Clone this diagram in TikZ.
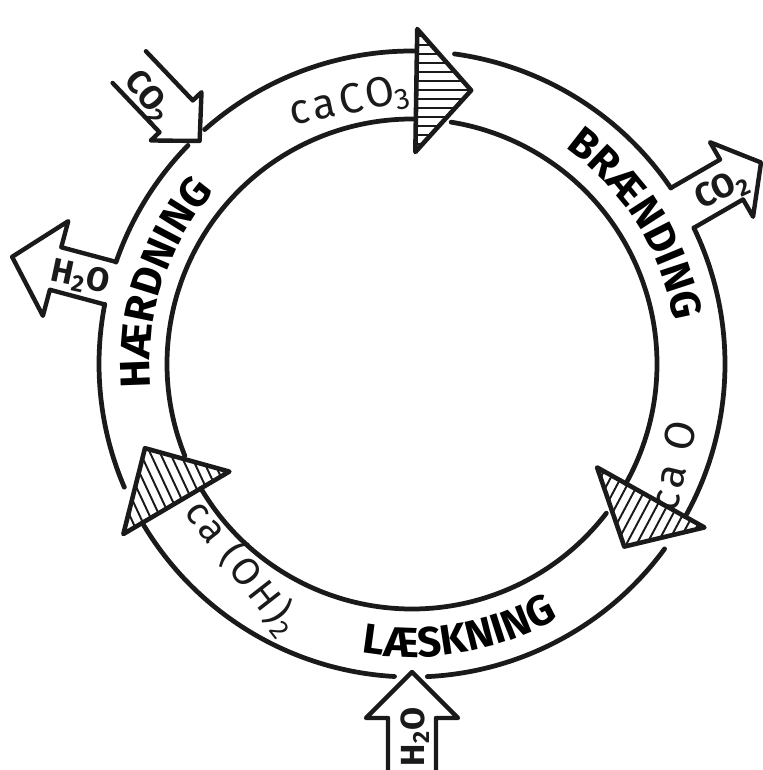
\documentclass[tikz,border=0pt]{standalone}
\usepackage{fontspec}
\setmainfont{Fira Sans}
\newfontfamily\stagefont[LetterSpace=5]{Fira Sans}
\newfontfamily\formulafont[LetterSpace=9]{Fira Sans}
\usetikzlibrary{calc, decorations.text}
\definecolor{ink}{HTML}{1A1A1A}

\tikzset{
  ring/.style={ink, line width=2.7pt, line cap=round, line join=round},
  hatchhead/.style={ink, line width=2.6pt, line join=round},
  hatchline/.style={ink, line width=1.1pt},
  gasshape/.style={ink, line width=2.5pt, line cap=round, line join=round},
  formula/.style={font=\formulafont\fontsize{24}{24}\selectfont, text=ink},
  gaslabel/.style={font=\fontsize{19}{19}\selectfont\bfseries, text=ink},
}

% ring edge: radius, start angle, end angle (angles run clockwise on the page)
\newcommand{\ringarc}[3]{%
  \draw[ring] ($(C)+(#2:#1)$) arc[start angle=#2, end angle=#3, radius=#1];}

% hatched head on the ring: back angle, tip angle, angle of the hatching
\newcommand{\ringhead}[3]{%
  \begin{scope}
    \clip ($(C)+(#1:212)$) -- ($(C)+(#2:280)$) -- ($(C)+(#1:335)$) -- cycle;
    \begin{scope}[shift={($(C)+(#1+4:275)$)}, rotate=-#3]
      \foreach \k in {-99,-90,...,99} \draw[hatchline] (-150,\k) -- (150,\k);
    \end{scope}
  \end{scope}
  \draw[hatchhead] ($(C)+(#1:212)$) -- ($(C)+(#2:280)$) -- ($(C)+(#1:335)$) -- cycle;}

% radial block arrow: axis angle, open end, head base, tip, shaft half, head half
\newcommand{\gasarrow}[6]{%
  \begin{scope}[shift={(C)}, rotate=-#1]
    \draw[gasshape] (#2,#5) -- (#3,#5) -- (#3,#6) -- (#4,0) -- (#3,-#6) -- (#3,-#5) -- (#2,-#5);
  \end{scope}}

\begin{document}
\begin{tikzpicture}[x=0.02cm, y=-0.02cm]

% Canvas
\useasboundingbox (0,0) rectangle (762,770);
\fill[white] (0,0) rectangle (762,770);
\coordinate (C) at (412,364);

% Outer edge of the ring
\ringarc{313}{228.5}{270.9}
\ringarc{313}{277.8}{325.8}
\ringarc{313}{334.2}{389.2}
\ringarc{313}{36.2}{87.2}
\ringarc{313}{93.2}{149.5}
\ringarc{313}{156.8}{191}
\ringarc{313}{199}{224.3}

% Inner edge of the ring
\ringarc{245}{279.2}{389.2}
\ringarc{245}{37.5}{149.5}
\ringarc{245}{158}{270.9}

% Heads on the ring
\ringhead{270.9}{282.2}{0}
\ringhead{29.2}{40.7}{-62}
\ringhead{149.5}{162.5}{65}

% Gases going in and out
\gasarrow{226.4}{410}{342}{308}{23}{35}
\gasarrow{195}{313}{369}{414}{22}{49}
\gasarrow{330}{313}{369}{403}{23}{43}
\gasarrow{90}{420}{354}{308}{24}{46}

% Stage names along the ring
\path[decorate, decoration={text along path, text align=center,
    text={|\stagefont\fontsize{24}{24}\selectfont\bfseries|BRÆNDING}}]
  ($(C)+(288:265)$) arc[start angle=288, end angle=368, radius=265];
\path[decorate, decoration={text along path, text align=center,
    text={|\stagefont\fontsize{24}{24}\selectfont\bfseries|LÆSKNING}}]
  ($(C)+(120:293)$) arc[start angle=120, end angle=40, radius=293];
\path[decorate, decoration={text along path, text align=center,
    text={|\stagefont\fontsize{24}{24}\selectfont\bfseries|HÆRDNING}}]
  ($(C)+(158:262)$) arc[start angle=158, end angle=238, radius=262];

% Substances
\node[formula, rotate=12] (caco) at (350,102) {caCO\textsubscript{3}};
\node[formula, rotate=76] (cao) at (673,466) {ca O};
\node[formula, font=\formulafont\fontsize{22}{22}\selectfont, rotate=-52] (caoh) at (243,567) {ca (OH)\textsubscript{2}};

% Gas labels
\node[gaslabel, rotate=-50] (co2in) at (148,97) {CO\textsubscript{2}};
\node[gaslabel, rotate=-12] (h2oout) at (80,278) {H\textsubscript{2}O};
\node[gaslabel, rotate=25] (co2out) at (722,190) {CO\textsubscript{2}};
\node[gaslabel, rotate=90] (h2oin) at (415,737) {H\textsubscript{2}O};

\end{tikzpicture}
\end{document}
